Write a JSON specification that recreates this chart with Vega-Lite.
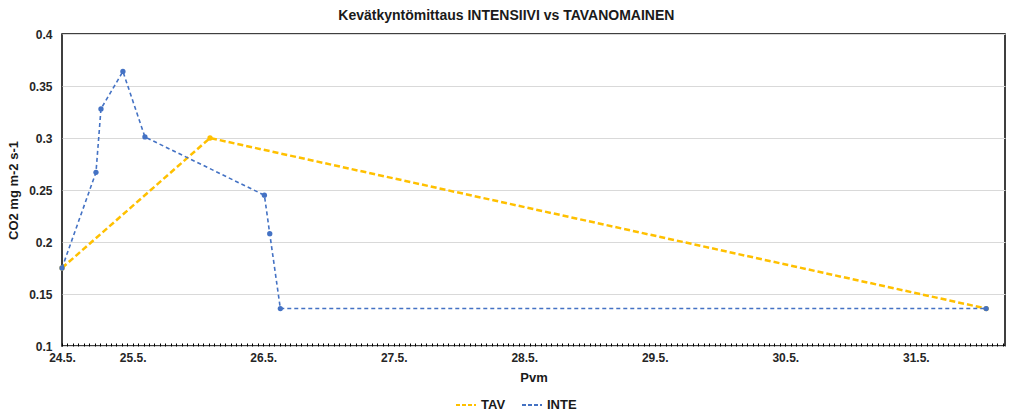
{
  "$schema": "https://vega.github.io/schema/vega-lite/v6.json",
  "autosize": {"type": "none"},
  "padding": {"left": 62, "top": 34, "right": 19, "bottom": 73},
  "width": 943,
  "height": 312,
  "background": "white",
  "title": {
    "text": "Kevätkyntömittaus INTENSIIVI vs TAVANOMAINEN",
    "font": "Liberation Sans",
    "fontSize": 14,
    "fontWeight": "bold",
    "color": "#1a1a1a",
    "anchor": "middle",
    "frame": "bounds",
    "offset": 5
  },
  "config": {
    "view": {"stroke": "#000000", "strokeWidth": 1.5},
    "axis": {
      "labelFont": "Liberation Sans",
      "titleFont": "Liberation Sans",
      "labelFontWeight": "bold",
      "titleFontWeight": "bold",
      "labelColor": "#262626",
      "titleColor": "#1a1a1a",
      "labelFontSize": 12,
      "titleFontSize": 13
    }
  },
  "datasets": {
    "pts": [
      {"t": "2023-05-24T11:00", "co2": 0.175, "sarja": "TAV"},
      {"t": "2023-05-25T14:13", "co2": 0.300, "sarja": "TAV"},
      {"t": "2023-05-31T12:56", "co2": 0.136, "sarja": "TAV"},
      {"t": "2023-05-24T11:00", "co2": 0.175, "sarja": "INTE"},
      {"t": "2023-05-24T17:15", "co2": 0.267, "sarja": "INTE"},
      {"t": "2023-05-24T18:10", "co2": 0.328, "sarja": "INTE"},
      {"t": "2023-05-24T22:12", "co2": 0.364, "sarja": "INTE"},
      {"t": "2023-05-25T02:15", "co2": 0.301, "sarja": "INTE"},
      {"t": "2023-05-26T00:13", "co2": 0.245, "sarja": "INTE"},
      {"t": "2023-05-26T01:12", "co2": 0.208, "sarja": "INTE"},
      {"t": "2023-05-26T03:09", "co2": 0.136, "sarja": "INTE"},
      {"t": "2023-05-31T12:56", "co2": 0.136, "sarja": "INTE"}
    ]
  },
  "data": {"name": "pts"},
  "encoding": {
    "x": {
      "field": "t",
      "type": "temporal",
      "title": "Pvm",
      "scale": {
        "domain": [
          {"year": 2023, "month": 5, "date": 24, "hours": 11, "minutes": 0},
          {"year": 2023, "month": 5, "date": 31, "hours": 16, "minutes": 24}
        ],
        "nice": false
      },
      "axis": {
        "tickCount": 180,
        "format": "%-d.%-m.",
        "labelExpr": "(hours(datum.value) == 0 || (date(datum.value) == 24 && hours(datum.value) == 11)) ? datum.label : ''",
        "grid": false,
        "domain": false,
        "ticks": true,
        "tickSize": 3,
        "tickColor": "#000000",
        "offset": -3,
        "labelOverlap": false,
        "labelFlush": false,
        "labelBound": false,
        "labelPadding": 6,
        "titlePadding": 8
      }
    },
    "y": {
      "field": "co2",
      "type": "quantitative",
      "title": "CO2 mg m-2 s-1",
      "scale": {"domain": [0.1, 0.4], "nice": false, "zero": false},
      "axis": {
        "values": [0.1, 0.15, 0.2, 0.25, 0.3, 0.35, 0.4],
        "format": ".2~f",
        "grid": true,
        "gridColor": "#d9d9d9",
        "ticks": false,
        "domain": false,
        "labelPadding": 10,
        "titlePadding": 8
      }
    },
    "color": {
      "field": "sarja",
      "type": "nominal",
      "scale": {"domain": ["TAV", "INTE"], "range": ["#FFC000", "#4472C4"]},
      "legend": {
        "title": null,
        "orient": "none",
        "legendX": 393,
        "legendY": 360,
        "direction": "horizontal",
        "symbolType": "stroke",
        "symbolSize": 400,
        "symbolStrokeWidth": 2,
        "symbolDash": [4, 2],
        "labelFont": "Liberation Sans",
        "labelFontWeight": "bold",
        "labelFontSize": 13,
        "labelColor": "#1a1a1a",
        "columnPadding": 12
      }
    }
  },
  "layer": [
    {
      "transform": [{"filter": "datum.sarja == 'TAV'"}],
      "mark": {"type": "line", "strokeWidth": 2.5, "strokeDash": [6, 3]}
    },
    {
      "transform": [{"filter": "datum.sarja == 'TAV'"}],
      "mark": {"type": "circle", "size": 28, "opacity": 1}
    },
    {
      "transform": [{"filter": "datum.sarja == 'INTE'"}],
      "mark": {"type": "line", "strokeWidth": 1.6, "strokeDash": [4, 3]}
    },
    {
      "transform": [{"filter": "datum.sarja == 'INTE'"}],
      "mark": {"type": "circle", "size": 28, "opacity": 1}
    }
  ]
}
